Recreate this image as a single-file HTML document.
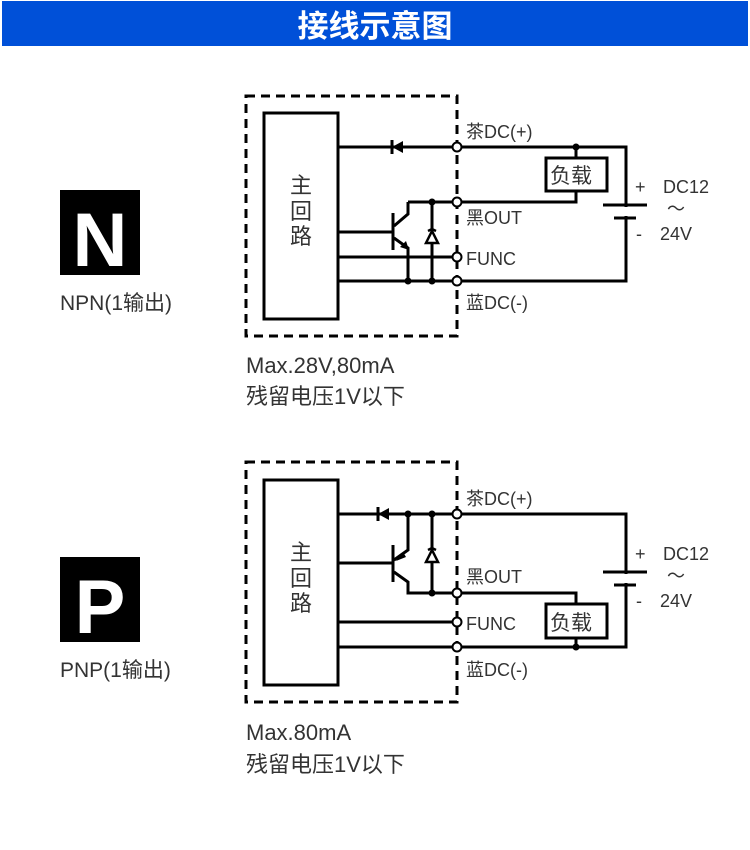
<!DOCTYPE html>
<html><head><meta charset="utf-8"><style>
body{margin:0;background:#fff;width:750px;height:850px;overflow:hidden}
svg{display:block}
text{font-family:"Liberation Sans","Noto Sans CJK SC",sans-serif;fill:#333}
</style></head><body>
<svg width="750" height="850" viewBox="0 0 750 850">
<rect x="2" y="1" width="746" height="45" fill="#0050D8"/>
<text x="375" y="37" text-anchor="middle" font-size="31" font-weight="bold" style="fill:#fff">接线示意图</text>

<rect x="60" y="190" width="80" height="85" fill="#000"/>
<text x="100" y="266" text-anchor="middle" font-size="76" font-weight="bold" style="fill:#fff">N</text>
<text x="60" y="310" font-size="21">NPN(1输出)</text>
<rect x="60" y="557" width="80" height="85" fill="#000"/>
<text x="100" y="633" text-anchor="middle" font-size="76" font-weight="bold" style="fill:#fff">P</text>
<text x="60" y="677" font-size="21">PNP(1输出)</text>

<text x="246" y="373" font-size="22">Max.28V,80mA</text>
<text x="246" y="404" font-size="22">残留电压1V以下</text>
<text x="246" y="740" font-size="22">Max.80mA</text>
<text x="246" y="772" font-size="22">残留电压1V以下</text>

<g stroke="#000" stroke-width="3" fill="none">
<rect x="246" y="96" width="211" height="240" stroke-dasharray="9,6"/>
<rect x="264" y="113" width="74" height="206" fill="#fff"/>
<path d="M338 147H626V281H338M338 257H457M338 232H393M393 213V250M408 202H576V191M408 202V214L394 226M394 238L408 248V281M432 202V281"/>
<path d="M576 147V158"/>
<rect x="546" y="158" width="61" height="33" fill="#fff"/>
<path d="M428 231L432 229L436 231" stroke-width="2.5"/>
<rect x="246" y="462" width="211" height="240" stroke-dasharray="9,6"/>
<rect x="264" y="480" width="74" height="205" fill="#fff"/>
<path d="M338 514H626V647H338M338 622H457M338 563H393M393 545V582M408 514V550L394 560M394 572L408 582V593H576V604M432 514V593"/>
<rect x="546" y="604" width="61" height="34" fill="#fff"/>
<path d="M576 638V647"/>
<path d="M428 550L432 548L436 550" stroke-width="2.5"/>
</g>
<rect x="620" y="207" width="12" height="9" fill="#fff"/>
<rect x="620" y="574" width="12" height="9" fill="#fff"/>
<path d="M603 205H647M614 218H636M603 572H647M614 585H636" stroke="#000" stroke-width="3"/>
<path d="M403 141L392 147L403 153Z" fill="#000"/><path d="M392 140V154" stroke="#000" stroke-width="3"/>
<path d="M389 508L378 514L389 520Z" fill="#000"/><path d="M378 507V521" stroke="#000" stroke-width="3"/>
<path d="M432 231L426 243H438Z" fill="#fff" stroke="#000" stroke-width="2.5"/>
<path d="M432 550L426 562H438Z" fill="#fff" stroke="#000" stroke-width="2.5"/>
<path d="M409 250L400 247L406 241Z" fill="#000"/>
<path d="M396 561L403 552L406 557Z" fill="#000"/>
<g fill="#000">
<circle cx="576" cy="147" r="3.5"/><circle cx="432" cy="202" r="3.5"/><circle cx="408" cy="281" r="3.5"/><circle cx="432" cy="281" r="3.5"/>
<circle cx="408" cy="514" r="3.5"/><circle cx="432" cy="514" r="3.5"/><circle cx="432" cy="593" r="3.5"/><circle cx="576" cy="647" r="3.5"/>
</g>
<g fill="#fff" stroke="#000" stroke-width="2">
<circle cx="457" cy="147" r="4.5"/><circle cx="457" cy="202" r="4.5"/><circle cx="457" cy="257" r="4.5"/><circle cx="457" cy="281" r="4.5"/>
<circle cx="457" cy="514" r="4.5"/><circle cx="457" cy="593" r="4.5"/><circle cx="457" cy="622" r="4.5"/><circle cx="457" cy="647" r="4.5"/>
</g>
<g font-size="22" text-anchor="middle">
<text x="301" y="193">主</text><text x="301" y="219">回</text><text x="301" y="244">路</text>
<text x="301" y="560">主</text><text x="301" y="586">回</text><text x="301" y="611">路</text>
</g>
<g font-size="18">
<text x="466" y="138">茶DC(+)</text><text x="466" y="224">黑OUT</text><text x="466" y="265">FUNC</text><text x="466" y="309">蓝DC(-)</text>
<text x="550" y="183" font-size="21">负载</text>
<text x="635" y="193">+</text><text x="663" y="193">DC12</text><text x="667" y="215">～</text><text x="636" y="240">-</text><text x="660" y="240">24V</text>
<text x="466" y="505">茶DC(+)</text><text x="466" y="583">黑OUT</text><text x="466" y="630">FUNC</text><text x="466" y="676">蓝DC(-)</text>
<text x="550" y="630" font-size="21">负载</text>
<text x="635" y="560">+</text><text x="663" y="560">DC12</text><text x="667" y="582">～</text><text x="636" y="607">-</text><text x="660" y="607">24V</text>
</g>
</svg>
</body></html>
